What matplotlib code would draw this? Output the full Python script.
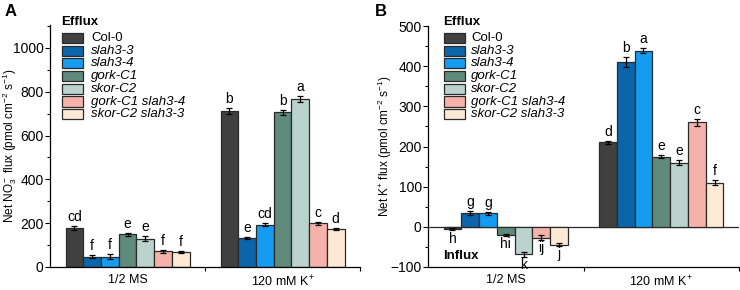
import matplotlib
matplotlib.use("Agg")
import matplotlib.pyplot as plt
import numpy as np
from matplotlib.ticker import MultipleLocator, FixedLocator
from matplotlib.patches import Rectangle

plt.rcParams['font.family'] = ['Liberation Sans', 'DejaVu Sans']
plt.rcParams['mathtext.fontset'] = 'custom'
plt.rcParams['mathtext.rm'] = 'Liberation Sans'
plt.rcParams['mathtext.it'] = 'Liberation Sans:italic'
plt.rcParams['mathtext.bf'] = 'Liberation Sans:bold'

conditions = ["1/2 MS", "120 mM K$^{+}$"]
genotypes = ["Col-0", "slah3-3", "slah3-4", "gork-C1", "skor-C2", "gork-C1 slah3-4", "skor-C2 slah3-3"]
italic = [False, True, True, True, True, True, True]
colors = ["#404040", "#0b65ab", "#159cf0", "#5f8b7d", "#bad4cd", "#f4b2ab", "#fde9d4"]

# Panel A: Net NO3- flux
no3_ms = [179, 47, 47, 149, 129, 72, 70]
no3_k = [712, 131, 192, 706, 766, 199, 174]
no3_ms_err = [9, 6, 11, 6, 11, 6, 4]
no3_k_err = [12, 4, 7, 12, 13, 5, 5]
no3_ms_let = ["cd", "f", "f", "e", "e", "f", "f"]
no3_k_let = ["b", "e", "cd", "b", "a", "c", "d"]

# Panel B: Net K+ flux
k_ms = [-6, 34, 34, -20, -68, -27, -44]
k_k = [210, 410, 438, 175, 160, 260, 110]
k_ms_err = [3, 5, 4, 3, 6, 6, 3]
k_k_err = [4, 12, 6, 4, 7, 8, 6]
k_ms_let = ["h", "g", "g", "hi", "k", "ij", "j"]
k_k_let = ["d", "b", "a", "e", "e", "c", "f"]

W, H = 740, 290
fig = plt.figure(figsize=(7.4, 2.9), dpi=100)
# axes boxes in pixels: left, top, right, bottom
boxA = (50, 25, 360, 267)
boxB = (428, 26, 739, 267)


def add_axes(box):
    l, t, r, b = box
    return fig.add_axes([l / W, (H - b) / H, (r - l) / W, (b - t) / H])


axA = add_axes(boxA)
axB = add_axes(boxB)

n = len(genotypes)
bw = 0.8 / n
offs = (np.arange(n) - (n - 1) / 2) * bw
FS = 9
YFS = 8.5
TFS = 10
LFS = 9.5


def legend(ax, box, title_x, patch_x, text_x):
    l, t, r, b = box
    ax_w, ax_h = r - l, b - t

    def ac(px, py):
        return (px - l) / ax_w, (b - py) / ax_h

    tx, ty = ac(title_x, 22)
    ax.text(tx, ty, "Efflux", transform=ax.transAxes, fontsize=LFS, fontweight="bold",
            ha="left", va="center", clip_on=False)
    for i, g in enumerate(genotypes):
        yc = 38 + 12.7 * i
        px0, py0 = ac(patch_x, yc + 5)
        px1, py1 = ac(patch_x + 21, yc - 5)
        ax.add_patch(Rectangle((px0, py0), px1 - px0, py1 - py0, transform=ax.transAxes,
                               facecolor=colors[i], edgecolor="#2a2a2a", linewidth=0.9,
                               clip_on=False, zorder=5))
        xx, yy = ac(text_x, yc)
        ax.text(xx, yy, g, transform=ax.transAxes, fontsize=LFS, ha="left", va="center",
                style="italic" if italic[i] else "normal", clip_on=False)


def draw(ax, box, vals_list, errs_list, lets_list, ylim, major, minor, ylabel, pad, labx):
    for gi, (vals, errs, lets) in enumerate(zip(vals_list, errs_list, lets_list)):
        for i in range(n):
            x = gi + offs[i]
            ax.bar(x, vals[i], width=bw, color=colors[i], edgecolor="#2a2a2a",
                   linewidth=0.9, zorder=2)
            ax.errorbar(x, vals[i], yerr=errs[i], fmt="none", ecolor="black",
                        elinewidth=0.9, capsize=2.5, capthick=0.9, zorder=3)
            if vals[i] >= 0:
                ax.text(x, vals[i] + errs[i] + pad, lets[i], ha="center", va="bottom",
                        fontsize=TFS)
            else:
                ax.text(x, vals[i] - errs[i] - pad * 0.6, lets[i], ha="center", va="top",
                        fontsize=TFS)
    ax.set_xlim(-0.5, 1.5)
    ax.set_ylim(*ylim)
    ax.yaxis.set_major_locator(MultipleLocator(major))
    ax.yaxis.set_minor_locator(MultipleLocator(minor))
    ax.set_xticks([0, 1])
    ax.set_xticklabels(conditions, fontsize=FS)
    ax.xaxis.set_minor_locator(FixedLocator([0.5, 1.5]))
    ax.tick_params(axis="x", which="major", length=0, pad=5)
    ax.tick_params(axis="x", which="minor", length=3, width=0.8)
    ax.tick_params(axis="y", which="major", length=3.5, width=0.8, labelsize=TFS, pad=1)
    ax.tick_params(axis="y", which="minor", length=2, width=0.8)
    for s in ["top", "right"]:
        ax.spines[s].set_visible(False)
    for s in ["left", "bottom"]:
        ax.spines[s].set_linewidth(0.9)
    ax.set_ylabel(ylabel, fontsize=YFS)
    ax.yaxis.set_label_coords(labx, 0.5)


draw(axA, boxA, [no3_ms, no3_k], [no3_ms_err, no3_k_err], [no3_ms_let, no3_k_let],
     (0, 1105), 200, 100, "Net NO$_3^-$ flux (pmol cm$^{-2}$ s$^{-1}$)", 10, -0.1)
draw(axB, boxB, [k_ms, k_k], [k_ms_err, k_k_err], [k_ms_let, k_k_let],
     (-100, 500), 100, 50, "Net K$^{+}$ flux (pmol cm$^{-2}$ s$^{-1}$)", 5, -0.108)
legend(axA, boxA, 61, 62, 91)
legend(axB, boxB, 443, 444, 471)
axB.axhline(0, color="#2a2a2a", linewidth=0.9, zorder=1)
axB.text(0.048, 0.046, "Influx", transform=axB.transAxes, fontsize=LFS, fontweight="bold",
         ha="left", va="center")

fig.text(5/740, 1 - 12/290, "A", fontsize=12, fontweight="bold", va="center", ha="left")
fig.text(375/740, 1 - 12/290, "B", fontsize=12, fontweight="bold", va="center", ha="left")

fig.savefig("out.png", dpi=100)
